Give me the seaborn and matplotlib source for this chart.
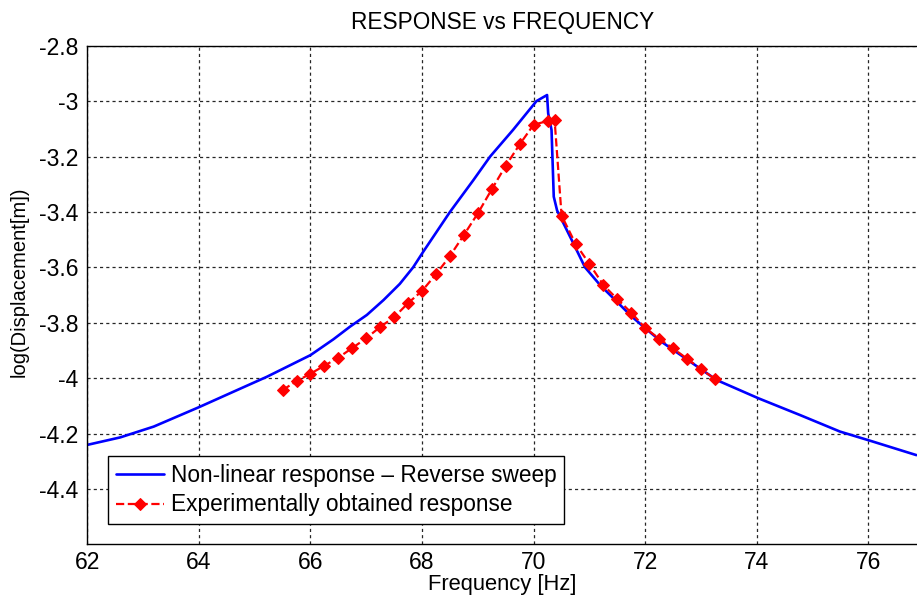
import matplotlib
matplotlib.use("Agg")
import matplotlib.pyplot as plt
import seaborn as sns
import numpy as np
import pandas as pd

# non-linear model, reverse sweep
model_freq = [62.0, 62.59, 63.19, 64.0, 64.62, 65.22, 65.58, 66.0, 66.41, 66.71,
              67.01, 67.31, 67.6, 67.84, 68.02, 68.5, 68.92, 69.22, 69.63, 70.05, 70.24,
              70.26, 70.32, 70.36, 70.42, 70.47, 70.71, 70.92, 71.19, 71.49, 71.76,
              72.0, 72.3, 72.68, 73.28, 74.03, 74.77, 75.49, 76.03, 76.86]
model_disp = [-4.241, -4.214, -4.175, -4.105, -4.049, -3.995, -3.959, -3.917, -3.860, -3.814,
              -3.772, -3.718, -3.660, -3.600, -3.544, -3.400, -3.285, -3.200, -3.104, -3.000, -2.978,
              -3.044, -3.104, -3.345, -3.395, -3.415, -3.513, -3.600, -3.664, -3.724, -3.778,
              -3.820, -3.870, -3.923, -4.007, -4.073, -4.133, -4.193, -4.226, -4.278]

# experimental points
exp_freq = [65.5, 65.75, 66.0, 66.25, 66.5, 66.75, 67.0, 67.25, 67.5, 67.75,
            68.0, 68.25, 68.5, 68.75, 69.0, 69.25, 69.5, 69.75, 70.0, 70.25,
            70.375, 70.5, 70.75, 71.0, 71.25, 71.5, 71.75, 72.0, 72.25, 72.5,
            72.75, 73.0, 73.25]
exp_disp = [-4.043, -4.011, -3.984, -3.955, -3.926, -3.891, -3.856, -3.815, -3.780, -3.729,
            -3.685, -3.625, -3.559, -3.483, -3.405, -3.318, -3.233, -3.156, -3.085, -3.072,
            -3.068, -3.413, -3.515, -3.588, -3.664, -3.715, -3.764, -3.819, -3.858, -3.893,
            -3.930, -3.968, -4.003]

x_ticks = [62, 64, 66, 68, 70, 72, 74, 76]
y_ticks = [-4.4, -4.2, -4, -3.8, -3.6, -3.4, -3.2, -3, -2.8]
y_ticklabels = ["-4.4", "-4.2", "-4", "-3.8", "-3.6", "-3.4", "-3.2", "-3", "-2.8"]

df_model = pd.DataFrame({"freq": model_freq, "disp": model_disp})
df_exp = pd.DataFrame({"freq": exp_freq, "disp": exp_disp})

sns.set_style("white")
plt.rcParams['font.family'] = ['Liberation Sans', 'DejaVu Sans']
plt.rcParams['text.color'] = 'black'
plt.rcParams['axes.labelcolor'] = 'black'
plt.rcParams['xtick.color'] = 'black'
plt.rcParams['ytick.color'] = 'black'

fig = plt.figure(figsize=(9.17, 6.03), dpi=100)
ax = fig.add_axes([0.0952, 0.0973, 0.9048, 0.8269])

sns.lineplot(data=df_model, x="freq", y="disp", ax=ax, color="#0000ff", linewidth=1.9,
             estimator=None, sort=False, label="Non-linear response \u2013 Reverse sweep")
sns.lineplot(data=df_exp, x="freq", y="disp", ax=ax, color="#ff0000", linewidth=1.6,
             linestyle="--", marker="D", markersize=6, markeredgecolor="#ff0000",
             estimator=None, sort=False, label="Experimentally obtained response")

ax.set_xlim(62, 76.87)
ax.set_ylim(-4.6, -2.8)
ax.set_xticks(x_ticks)
ax.set_yticks(y_ticks)
ax.set_yticklabels(y_ticklabels)
ax.tick_params(labelsize=16.5, direction="out", length=3.5, color="black", pad=3)
ax.tick_params(axis="x", pad=1.5)
ax.grid(True, color="0.15", linestyle=(0, (2.5, 2.5)), linewidth=0.9)

for side in ["left", "top", "bottom"]:
    ax.spines[side].set_color("black")
    ax.spines[side].set_linewidth(1.0)
ax.spines["right"].set_visible(False)

ax.set_title("RESPONSE vs FREQUENCY", fontsize=16.3, pad=12)
ax.set_xlabel("Frequency [Hz]", fontsize=15.8, labelpad=0)
ax.set_ylabel("log(Displacement[m])", fontsize=14.5)
ax.yaxis.set_label_coords(-0.071, 0.526)

leg = ax.legend(loc="lower left", bbox_to_anchor=(0.0253, 0.040), borderaxespad=0,
                fontsize=16.3, fancybox=False, framealpha=1, edgecolor="black",
                handlelength=2.1, handletextpad=0.3, borderpad=0.35, labelspacing=0.3)
leg.get_frame().set_linewidth(1.0)

fig.savefig("out.png", dpi=100)
